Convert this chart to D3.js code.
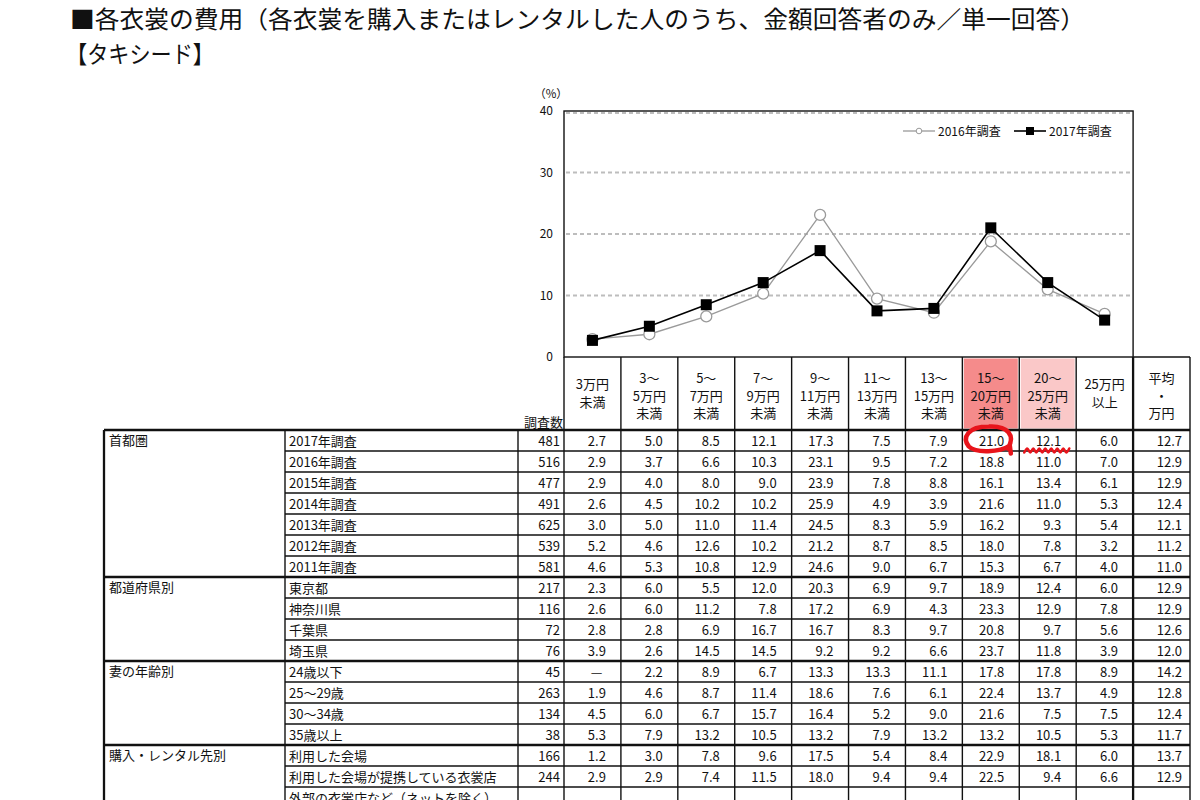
<!DOCTYPE html>
<html lang="ja">
<head>
<meta charset="utf-8">
<title>各衣裳の費用【タキシード】</title>
<script src="https://cdn.jsdelivr.net/npm/d3@7/dist/d3.min.js"></script>
<style>
	body { margin: 0; background: #fff; }
	svg { display: block; font-family: "Noto Sans CJK JP", "DejaVu Sans", sans-serif; }
	.cell { font-size: 13px; fill: #111; }
	.grid { stroke: #bdbdbd; stroke-width: 2; stroke-dasharray: 4,3; }
	.rule { stroke: #111; stroke-width: 1.4; }
	.thick { stroke: #111; stroke-width: 2.3; }
</style>
</head>
<body>
<script>
	// column headings (price ranges), last one is the average column
	var headerLines = [
		["3万円", "未満"], ["3～", "5万円", "未満"], ["5～", "7万円", "未満"],
		["7～", "9万円", "未満"], ["9～", "11万円", "未満"], ["11～", "13万円", "未満"],
		["13～", "15万円", "未満"], ["15～", "20万円", "未満"], ["20～", "25万円", "未満"],
		["25万円", "以上"], ["平均", "・", "万円"]
	];
	var yTicks = [0, 10, 20, 30, 40];
	var seriesNames = ["2016年調査", "2017年調査"];

	var groups = ["首都圏", "都道府県別", "妻の年齢別", "購入・レンタル先別"];
	var groupSizes = [7, 4, 4, 3];
	var rowLabels = [
		"2017年調査", "2016年調査", "2015年調査", "2014年調査", "2013年調査", "2012年調査", "2011年調査",
		"東京都", "神奈川県", "千葉県", "埼玉県",
		"24歳以下", "25～29歳", "30～34歳", "35歳以上",
		"利用した会場", "利用した会場が提携している衣裳店", "外部の衣裳店など（ネットを除く）"
	];
	var rowN = [481, 516, 477, 491, 625, 539, 581, 217, 116, 72, 76, 45, 263, 134, 38, 166, 244, null];
	var rowValues = [
		[2.7, 5.0, 8.5, 12.1, 17.3, 7.5, 7.9, 21.0, 12.1, 6.0],
		[2.9, 3.7, 6.6, 10.3, 23.1, 9.5, 7.2, 18.8, 11.0, 7.0],
		[2.9, 4.0, 8.0, 9.0, 23.9, 7.8, 8.8, 16.1, 13.4, 6.1],
		[2.6, 4.5, 10.2, 10.2, 25.9, 4.9, 3.9, 21.6, 11.0, 5.3],
		[3.0, 5.0, 11.0, 11.4, 24.5, 8.3, 5.9, 16.2, 9.3, 5.4],
		[5.2, 4.6, 12.6, 10.2, 21.2, 8.7, 8.5, 18.0, 7.8, 3.2],
		[4.6, 5.3, 10.8, 12.9, 24.6, 9.0, 6.7, 15.3, 6.7, 4.0],
		[2.3, 6.0, 5.5, 12.0, 20.3, 6.9, 9.7, 18.9, 12.4, 6.0],
		[2.6, 6.0, 11.2, 7.8, 17.2, 6.9, 4.3, 23.3, 12.9, 7.8],
		[2.8, 2.8, 6.9, 16.7, 16.7, 8.3, 9.7, 20.8, 9.7, 5.6],
		[3.9, 2.6, 14.5, 14.5, 9.2, 9.2, 6.6, 23.7, 11.8, 3.9],
		[null, 2.2, 8.9, 6.7, 13.3, 13.3, 11.1, 17.8, 17.8, 8.9],
		[1.9, 4.6, 8.7, 11.4, 18.6, 7.6, 6.1, 22.4, 13.7, 4.9],
		[4.5, 6.0, 6.7, 15.7, 16.4, 5.2, 9.0, 21.6, 7.5, 7.5],
		[5.3, 7.9, 13.2, 10.5, 13.2, 7.9, 13.2, 13.2, 10.5, 5.3],
		[1.2, 3.0, 7.8, 9.6, 17.5, 5.4, 8.4, 22.9, 18.1, 6.0],
		[2.9, 2.9, 7.4, 11.5, 18.0, 9.4, 9.4, 22.5, 9.4, 6.6],
		null
	];
	var rowAverage = [12.7, 12.9, 12.9, 12.4, 12.1, 11.2, 11.0, 12.9, 12.9, 12.6, 12.0, 14.2, 12.8, 12.4, 11.7, 13.7, 12.9, null];

	var width = 1200, height = 800;
	var svg = d3.select("body").append("svg")
		.attr("width", width)
		.attr("height", height);

	// title
	svg.append("text")
		.attr("x", 70).attr("y", 28)
		.attr("textLength", 1015).attr("lengthAdjust", "spacingAndGlyphs")
		.style("font-size", "24px").attr("fill", "#111")
		.text("■各衣裳の費用（各衣裳を購入またはレンタルした人のうち、金額回答者のみ／単一回答）");
	svg.append("text")
		.attr("x", 66).attr("y", 63)
		.attr("textLength", 148).attr("lengthAdjust", "spacingAndGlyphs")
		.style("font-size", "24px").attr("fill", "#111")
		.text("【タキシード】");

	// layout
	var plotTop = 111, plotBottom = 357, colLeft = 564, colRight = 1190;
	var tableTop = 430, rowH = 21;
	var xGroup = 104, xLabel = 285, xN = 518;

	var x = d3.scaleBand().domain(d3.range(headerLines.length)).range([colLeft, colRight]);
	var plotRight = x(headerLines.length - 1);
	var y = d3.scaleLinear().domain([0, 40]).range([plotBottom, plotTop]);
	var row = d3.scaleBand().domain(d3.range(rowLabels.length)).range([tableTop, tableTop + rowH * rowLabels.length]);

	// header shading for the highlighted columns
	var shade = { 7: "#f58b8b", 8: "#fac8c8" };
	Object.keys(shade).forEach(function(k) {
		svg.append("rect")
			.attr("x", x(+k) + 1.5).attr("y", plotBottom + 1.5)
			.attr("width", x.bandwidth() - 3).attr("height", tableTop - plotBottom - 3)
			.attr("fill", shade[k]);
	});

	// gridlines
	svg.append("g").selectAll("line")
		.data(yTicks.slice(1))
		.enter().append("line")
		.attr("class", "grid")
		.attr("x1", colLeft + 2).attr("x2", plotRight - 2)
		.attr("y1", function(d) { return y(d) + (d === 40 ? 2 : 0); })
		.attr("y2", function(d) { return y(d) + (d === 40 ? 2 : 0); });

	// y axis labels
	svg.append("g").selectAll("text")
		.data(yTicks)
		.enter().append("text")
		.attr("class", "cell")
		.attr("x", 553).attr("y", function(d) { return y(d) + 4; })
		.attr("text-anchor", "end")
		.style("font-size", "12px")
		.text(function(d) { return d; });
	svg.append("text").attr("class", "cell")
		.attr("x", 551).attr("y", 98).attr("text-anchor", "middle")
		.style("font-size", "11.5px").text("（%）");

	// plot frame
	svg.append("rect")
		.attr("x", colLeft).attr("y", plotTop)
		.attr("width", plotRight - colLeft).attr("height", plotBottom - plotTop)
		.attr("fill", "none").attr("class", "rule");

	// series lines
	var cx = function(d, i) { return x(i) + x.bandwidth() / 2; };
	var line = d3.line().x(function(d, i) { return cx(d, i); }).y(function(d) { return y(d); });
	var s2016 = rowValues[1], s2017 = rowValues[0];

	svg.append("path").datum(s2016)
		.attr("d", line).attr("fill", "none").attr("stroke", "#9a9a9a").attr("stroke-width", 1.3);
	svg.append("g").selectAll("circle")
		.data(s2016).enter().append("circle")
		.attr("cx", cx).attr("cy", function(d) { return y(d); })
		.attr("r", 5.5).attr("fill", "#fff").attr("stroke", "#9a9a9a").attr("stroke-width", 1.3);

	svg.append("path").datum(s2017)
		.attr("d", line).attr("fill", "none").attr("stroke", "#000").attr("stroke-width", 1.6);
	svg.append("g").selectAll("rect")
		.data(s2017).enter().append("rect")
		.attr("x", function(d, i) { return cx(d, i) - 5.5; })
		.attr("y", function(d) { return y(d) - 5.5; })
		.attr("width", 11).attr("height", 11).attr("fill", "#000");

	// legend
	var legend = svg.append("g").attr("transform", "translate(0,131)");
	legend.append("line").attr("x1", 903).attr("x2", 935).attr("stroke", "#9a9a9a").attr("stroke-width", 1.3);
	legend.append("circle").attr("cx", 919).attr("r", 2.8).attr("fill", "#fff").attr("stroke", "#9a9a9a");
	legend.append("text").attr("class", "cell").attr("x", 938).attr("y", 4.5)
		.style("font-size", "12px").text(seriesNames[0]);
	legend.append("line").attr("x1", 1014).attr("x2", 1046).attr("stroke", "#000").attr("stroke-width", 1.6);
	legend.append("rect").attr("x", 1026).attr("y", -4).attr("width", 8).attr("height", 8).attr("fill", "#000");
	legend.append("text").attr("class", "cell").attr("x", 1049).attr("y", 4.5)
		.style("font-size", "12px").text(seriesNames[1]);

	// header cells
	var header = svg.append("g");
	headerLines.forEach(function(lines, i) {
		var mid = x(i) + x.bandwidth() / 2;
		var startY = lines.length === 2 ? 389 : 383;
		lines.forEach(function(t, j) {
			header.append("text").attr("class", "cell")
				.attr("x", mid).attr("y", startY + j * 17.5)
				.attr("text-anchor", "middle")
				.attr("fill", shade[i] ? "#7a2424" : "#111")
				.text(t);
		});
	});
	header.append("text").attr("class", "cell")
		.attr("x", 563).attr("y", 427).attr("text-anchor", "end").text("調査数");

	// header rules
	var rules = svg.append("g");
	d3.range(1, headerLines.length).forEach(function(i) {
		rules.append("line").attr("class", i === headerLines.length - 1 ? "thick" : "rule")
			.attr("x1", x(i)).attr("x2", x(i))
			.attr("y1", plotBottom).attr("y2", height);
	});
	rules.append("line").attr("class", "rule").attr("x1", plotRight).attr("x2", colRight)
		.attr("y1", plotBottom).attr("y2", plotBottom);
	[colLeft, colRight].forEach(function(v) {
		rules.append("line").attr("class", "rule").attr("x1", v).attr("x2", v)
			.attr("y1", plotBottom).attr("y2", height);
	});
	[xLabel, xN].forEach(function(v) {
		rules.append("line").attr("class", "rule").attr("x1", v).attr("x2", v)
			.attr("y1", tableTop).attr("y2", height);
	});
	rules.append("line").attr("class", "thick").attr("x1", xGroup).attr("x2", xGroup)
		.attr("y1", tableTop).attr("y2", height);

	// row rules: group breaks span the full width
	var groupStarts = [];
	groupSizes.reduce(function(acc, n) { groupStarts.push(acc); return acc + n; }, 0);
	d3.range(rowLabels.length).forEach(function(r) {
		var isGroup = groupStarts.indexOf(r) >= 0;
		rules.append("line").attr("class", isGroup ? "thick" : "rule")
			.attr("x1", isGroup ? xGroup : xLabel).attr("x2", colRight)
			.attr("y1", row(r)).attr("y2", row(r));
	});

	// table text
	var body = svg.append("g");
	groups.forEach(function(g, k) {
		body.append("text").attr("class", "cell")
			.attr("x", xGroup + 5).attr("y", row(groupStarts[k]) + 15).text(g);
	});
	rowLabels.forEach(function(label, r) {
		var ty = row(r) + 15.5;
		body.append("text").attr("class", "cell").attr("x", xLabel + 4).attr("y", ty).text(label);
		if (rowN[r] != null) {
			body.append("text").attr("class", "cell").attr("x", colLeft - 4).attr("y", ty)
				.attr("text-anchor", "end").text(rowN[r]);
		}
		if (rowValues[r]) {
			rowValues[r].forEach(function(v, i) {
				body.append("text").attr("class", "cell")
					.attr("x", v == null ? x(i) + x.bandwidth() / 2 + 4 : x(i) + x.bandwidth() - 15)
					.attr("y", ty)
					.attr("text-anchor", v == null ? "middle" : "end")
					.text(v == null ? "—" : d3.format(".1f")(v));
			});
			body.append("text").attr("class", "cell")
				.attr("x", colRight - 8).attr("y", ty).attr("text-anchor", "end")
				.text(d3.format(".1f")(rowAverage[r]));
		}
	});

	// hand-drawn red marks on the 2017 row
	var ex = x(7) + x.bandwidth() / 2 - 2, ey = row(0) + rowH / 2 - 1;
	svg.append("path")
		.attr("d", "M" + (ex + 19) + "," + (ey + 9) +
			" C" + (ex + 27) + "," + (ey - 4) + " " + (ex + 19) + "," + (ey - 14) + " " + ex + "," + (ey - 13) +
			" C" + (ex - 21) + "," + (ey - 13) + " " + (ex - 27) + "," + (ey - 2) + " " + (ex - 20) + "," + (ey + 7) +
			" C" + (ex - 13) + "," + (ey + 14) + " " + (ex + 11) + "," + (ey + 13) + " " + (ex + 21) + "," + (ey + 6) +
			" L" + (ex + 22) + "," + (ey + 14))
		.attr("fill", "none").attr("stroke", "#e8141b").attr("stroke-width", 4.5)
		.attr("stroke-linecap", "round").attr("stroke-linejoin", "round");
	var wx0 = x(8) + 5, wx1 = x(8) + x.bandwidth() - 4, wy = row(1) - 0.5;
	var wave = d3.range(wx0, wx1, 3).map(function(px, j) { return [px, wy + (j % 2 ? -2 : 2)]; });
	svg.append("path").attr("d", d3.line().curve(d3.curveCatmullRom)(wave))
		.attr("fill", "none").attr("stroke", "#e8141b").attr("stroke-width", 2.6).attr("stroke-linecap", "round");
</script>
</body>
</html>
